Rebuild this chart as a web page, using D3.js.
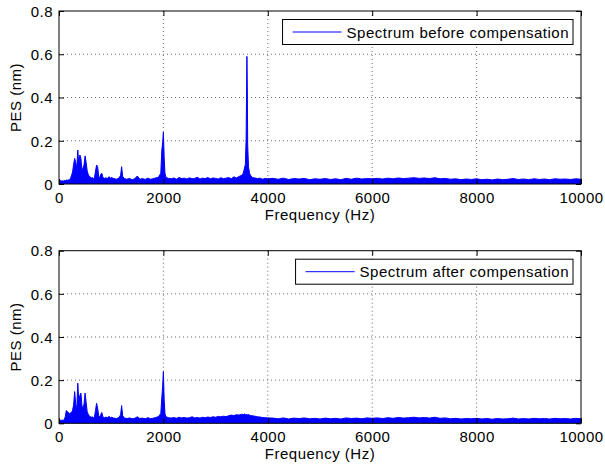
<!DOCTYPE html>
<html><head><meta charset="utf-8">
<script src="https://cdn.jsdelivr.net/npm/d3@7"></script>
<style>
body{margin:0;background:#fff;}
text{font-family:"Liberation Sans",Arial,Helvetica,sans-serif;letter-spacing:0.5px;}
</style></head>
<body><svg id="c" width="605" height="465"></svg>
<script>
// Frequency samples (Hz)
const freq = [
 0,20,40,60,80,100,120,140,160,180,200,220,240,260,280,300,320,340,360,380,400,420,440,460,480,500,520,540,560,580,600,620,640,660,680,700,720,740,760,780,800,820,840,860,880,900,920,940,960,980,1000,
 1050,1100,1150,1180,1200,1220,1250,1300,1350,1400,1450,1500,1550,1600,1650,1700,1750,1800,1850,1900,1950,
 1970,1985,2000,2015,2030,2050,
 2100,2150,2200,2250,2300,2350,2400,2450,2500,2550,2600,2650,2700,2750,2800,2850,2900,2950,3000,3050,3100,3150,3200,3250,3300,3350,3400,3450,3500,
 3530,3550,3570,3585,3600,3608,3615,3630,3650,3670,3700,
 3750,3800,3850,3900,3950,4000,
 4100,4200,4300,4400,4500,4600,4700,4800,4900,5000,5100,5200,5300,5400,5500,5600,5700,5800,5900,6000,
 6100,6200,6300,6400,6500,6600,6700,6800,6900,7000,7100,7200,7300,7400,7500,7600,7700,7800,7900,8000,
 8100,8200,8300,8400,8500,8600,8700,8800,8900,9000,9100,9200,9300,9400,9500,9600,9700,9800,9900,10000
];
// PES before compensation (nm)
const pesBefore = [
 0.015,0.016,0.014,0.015,0.013,0.016,0.015,0.018,0.017,0.019,0.021,0.025,0.04,0.055,0.09,0.118,0.10,0.07,0.157,0.09,0.134,0.118,0.06,0.075,0.09,0.13,0.10,0.06,0.045,0.035,0.032,0.028,0.03,0.025,0.03,0.06,0.088,0.08,0.035,0.03,0.045,0.05,0.03,0.028,0.025,0.03,0.024,0.028,0.034,0.026,0.03,
 0.025,0.022,0.028,0.04,0.08,0.035,0.025,0.022,0.026,0.02,0.024,0.037,0.022,0.025,0.021,0.027,0.022,0.024,0.028,0.03,0.05,
 0.157,0.19,0.24,0.12,0.05,0.03,
 0.026,0.024,0.028,0.022,0.03,0.025,0.027,0.023,0.029,0.024,0.026,0.031,0.023,0.027,0.025,0.03,0.024,0.028,0.026,0.023,0.029,0.025,0.027,0.03,0.024,0.033,0.028,0.035,0.04,
 0.05,0.07,0.09,0.21,0.59,0.43,0.18,0.08,0.05,0.04,0.03,
 0.028,0.025,0.027,0.022,0.026,0.024,
 0.026,0.022,0.027,0.021,0.025,0.023,0.026,0.02,0.024,0.022,0.025,0.021,0.024,0.02,0.026,0.022,0.027,0.023,0.025,0.024,
 0.026,0.023,0.027,0.024,0.028,0.025,0.027,0.029,0.026,0.028,0.025,0.029,0.024,0.026,0.022,0.024,0.02,0.023,0.021,0.024,
 0.02,0.022,0.019,0.023,0.02,0.022,0.025,0.021,0.023,0.02,0.024,0.021,0.023,0.02,0.024,0.022,0.023,0.021,0.024,0.022
];
// PES after compensation (nm)
const pesAfter = [
 0.014,0.015,0.013,0.015,0.014,0.016,0.03,0.059,0.055,0.05,0.045,0.048,0.05,0.06,0.085,0.147,0.09,0.06,0.186,0.10,0.13,0.14,0.08,0.07,0.09,0.14,0.096,0.054,0.042,0.035,0.03,0.028,0.03,0.026,0.03,0.06,0.093,0.07,0.035,0.03,0.04,0.05,0.03,0.027,0.025,0.03,0.024,0.028,0.033,0.025,0.028,
 0.024,0.022,0.027,0.04,0.082,0.035,0.025,0.022,0.025,0.021,0.023,0.03,0.022,0.024,0.021,0.026,0.022,0.023,0.027,0.03,0.045,
 0.12,0.17,0.24,0.11,0.045,0.03,
 0.026,0.024,0.027,0.023,0.028,0.025,0.027,0.024,0.026,0.03,0.025,0.027,0.024,0.028,0.026,0.029,0.027,0.03,0.028,0.032,0.03,0.033,0.031,0.035,0.038,0.036,0.04,0.038,0.042,
 0.04,0.043,0.041,0.04,0.042,0.04,0.039,0.041,0.038,0.036,0.035,
 0.033,0.03,0.029,0.027,0.026,0.025,
 0.024,0.021,0.025,0.02,0.024,0.022,0.025,0.021,0.023,0.02,0.024,0.021,0.023,0.02,0.025,0.022,0.024,0.021,0.025,0.023,
 0.025,0.022,0.026,0.023,0.027,0.024,0.026,0.028,0.025,0.027,0.024,0.028,0.023,0.025,0.021,0.023,0.02,0.022,0.021,0.023,
 0.02,0.022,0.019,0.022,0.02,0.021,0.024,0.02,0.022,0.02,0.023,0.021,0.022,0.02,0.023,0.021,0.022,0.02,0.023,0.021
];
const xTicks = [0,2000,4000,6000,8000,10000];
const yTicks = [0,0.2,0.4,0.6,0.8];
const legendLabels = ["Spectrum before compensation","Spectrum after compensation"];
const xLabel = "Frequency (Hz)";
const yLabel = "PES (nm)";

const svg = d3.select("#c");
const L = 59, R = 581;
const panels = [
  {top: 11, bottom: 184, values: pesBefore, label: legendLabels[0]},
  {top: 250.7, bottom: 423.3, values: pesAfter, label: legendLabels[1]}
];
const FS = 15;
const blue = "#0000ff";

panels.forEach(p => {
  const x = d3.scaleLinear().domain([0,10000]).range([L,R]);
  const y = d3.scaleLinear().domain([0,0.8]).range([p.bottom,p.top]);
  const g = svg.append("g");
  const n = Math.min(freq.length, p.values.length);
  const data = d3.range(n).map(i => [freq[i], p.values[i]]);

  // grid
  const grid = g.append("g").attr("stroke","#444").attr("stroke-width",0.8).attr("stroke-dasharray","1,3");
  xTicks.slice(1,-1).forEach(t => grid.append("line").attr("x1",x(t)).attr("x2",x(t)).attr("y1",p.top).attr("y2",p.bottom));
  yTicks.slice(1,-1).forEach(t => grid.append("line").attr("x1",L).attr("x2",R).attr("y1",y(t)).attr("y2",y(t)));

  // data
  g.append("path").datum(data)
    .attr("fill",blue)
    .attr("d", d3.area().x(d=>x(d[0])).y0(y(0)).y1(d=>y(d[1])));
  g.append("path").datum(data)
    .attr("fill","none").attr("stroke",blue).attr("stroke-width",1)
    .attr("d", d3.line().x(d=>x(d[0])).y(d=>y(d[1])));

  // axes with ticks (inward), box
  const axB = d3.axisBottom(x).tickValues(xTicks).tickSize(-5).tickPadding(10).tickFormat(d3.format("d"));
  const axT = d3.axisTop(x).tickValues(xTicks).tickSize(-5).tickFormat("");
  const axL = d3.axisLeft(y).tickValues(yTicks).tickSize(-5).tickPadding(6).tickFormat(d => d===0 ? "0" : d3.format(".1f")(d));
  const axR = d3.axisRight(y).tickValues(yTicks).tickSize(-5).tickFormat("");
  const gb = g.append("g").attr("transform",`translate(0,${p.bottom})`).call(axB);
  const gt = g.append("g").attr("transform",`translate(0,${p.top})`).call(axT);
  const gl = g.append("g").attr("transform",`translate(${L},0)`).call(axL);
  const gr = g.append("g").attr("transform",`translate(${R},0)`).call(axR);
  [gb,gt,gl,gr].forEach(a => {
    a.select(".domain").attr("stroke","#000").attr("stroke-width",1).attr("d", null);
    a.selectAll(".tick line").attr("stroke","#000");
    a.selectAll("text").attr("font-size",FS).attr("fill","#000").attr("font-family",'"Liberation Sans",Arial,sans-serif');
  });
  gb.selectAll(".tick text").attr("dy",null).attr("y",null).attr("transform",null)
    .attr("y", 19).attr("dominant-baseline","auto");
  gl.selectAll(".tick text").attr("dy","0.35em");
  g.append("rect").attr("x",L).attr("y",p.top).attr("width",R-L).attr("height",p.bottom-p.top)
    .attr("fill","none").attr("stroke","#000").attr("stroke-width",1);

  // labels
  g.append("text").attr("x",(L+R)/2).attr("y",p.bottom+36).attr("text-anchor","middle")
    .attr("font-size",FS).text(xLabel);
  g.append("text").attr("transform",`translate(21,${(p.top+p.bottom)/2}) rotate(-90)`)
    .attr("text-anchor","middle").attr("font-size",FS).text(yLabel);

  // legend
  const lg = g.append("g");
  const ly = p.top + 21;
  const txt = lg.append("text").attr("x",569).attr("y",ly+5.5).attr("text-anchor","end")
    .attr("font-size",FS).text(p.label);
  const w = txt.node().getComputedTextLength();
  const ts = 569 - w;
  const lineEnd = ts - 5, lineStart = lineEnd - 49;
  lg.insert("rect","text").attr("x",lineStart-10).attr("y",p.top+8.5).attr("width",573-(lineStart-10)).attr("height",25)
    .attr("fill","#fff").attr("stroke","#000").attr("stroke-width",1);
  lg.append("line").attr("x1",lineStart).attr("x2",lineEnd).attr("y1",ly).attr("y2",ly)
    .attr("stroke",blue).attr("stroke-width",1);
});
</script></body></html>
